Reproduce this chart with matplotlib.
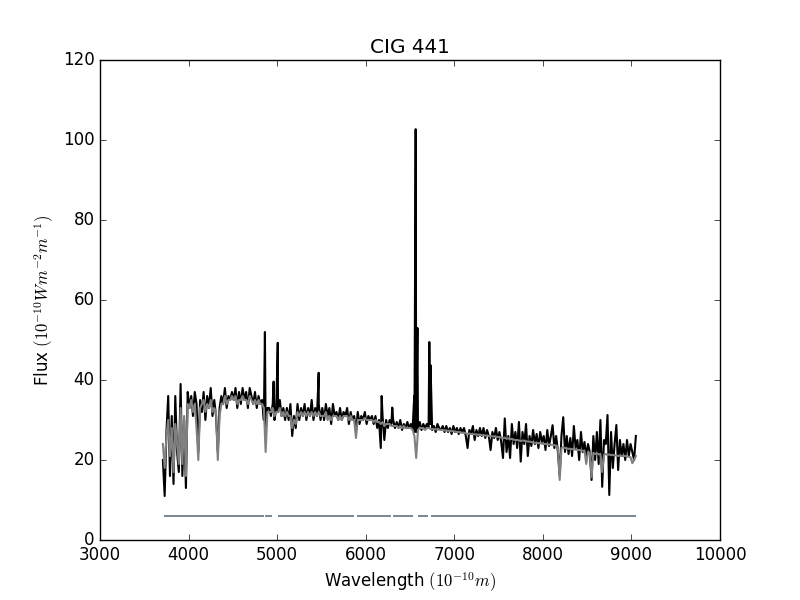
import numpy as np
from matplotlib import pyplot as plt

wave = [
    3710, 3730, 3750, 3770, 3790, 3810, 3830, 3850, 3870, 3890,
    3910, 3930, 3950, 3970, 3990, 4010, 4030, 4050, 4070, 4090,
    4110, 4130, 4150, 4170, 4190, 4210, 4230, 4250, 4270, 4290,
    4310, 4330, 4350, 4370, 4390, 4410, 4430, 4450, 4470, 4490,
    4510, 4530, 4550, 4570, 4590, 4610, 4630, 4650, 4670, 4690,
    4710, 4730, 4750, 4770, 4790, 4810, 4830, 4850, 4870, 4890,
    4910, 4930, 4950, 4970, 4990, 5010, 5030, 5050, 5070, 5090,
    5110, 5130, 5150, 5170, 5190, 5210, 5230, 5250, 5270, 5290,
    5310, 5330, 5350, 5370, 5390, 5410, 5430, 5450, 5470, 5490,
    5510, 5530, 5550, 5570, 5590, 5610, 5630, 5650, 5670, 5690,
    5710, 5730, 5750, 5770, 5790, 5810, 5830, 5850, 5870, 5890,
    5910, 5930, 5950, 5970, 5990, 6010, 6030, 6050, 6070, 6090,
    6110, 6130, 6150, 6170, 6190, 6210, 6230, 6250, 6270, 6290,
    6310, 6330, 6350, 6370, 6390, 6410, 6430, 6450, 6470, 6490,
    6510, 6530, 6550, 6570, 6590, 6610, 6630, 6650, 6670, 6690,
    6710, 6730, 6750, 6770, 6790, 6810, 6830, 6850, 6870, 6890,
    6910, 6930, 6950, 6970, 6990, 7010, 7030, 7050, 7070, 7090,
    7110, 7130, 7150, 7170, 7190, 7210, 7230, 7250, 7270, 7290,
    7310, 7330, 7350, 7370, 7390, 7410, 7430, 7450, 7470, 7490,
    7510, 7530, 7550, 7570, 7590, 7610, 7630, 7650, 7670, 7690,
    7710, 7730, 7750, 7770, 7790, 7810, 7830, 7850, 7870, 7890,
    7910, 7930, 7950, 7970, 7990, 8010, 8030, 8050, 8070, 8090,
    8110, 8130, 8150, 8170, 8190, 8210, 8230, 8250, 8270, 8290,
    8310, 8330, 8350, 8370, 8390, 8410, 8430, 8450, 8470, 8490,
    8510, 8530, 8550, 8570, 8590, 8610, 8630, 8650, 8670, 8690,
    8710, 8730, 8750, 8770, 8790, 8810, 8830, 8850, 8870, 8890,
    8910, 8930, 8950, 8970, 8990, 9010, 9030, 9050,
]

flux_obs = [
    20, 11, 27, 36, 16, 31, 14, 36, 22, 17,
    39, 16, 30, 13, 37, 33, 36, 31, 37, 34,
    22, 35, 32, 37, 30, 36, 33, 38, 31, 35,
    31, 22, 33, 36, 34, 38, 33, 36, 35, 37,
    35, 38, 33, 37, 34, 38, 35, 37, 33, 38,
    36, 34, 37, 33, 36, 34, 35, 30, 27, 33,
    33, 31, 34, 30, 33, 32, 35, 31, 33, 30,
    33, 30, 34, 26, 31, 28, 34, 30, 33, 31,
    34, 30, 33, 31, 35, 30, 33, 31, 34, 30,
    33, 30, 34, 31, 33, 29, 34, 31, 32, 30,
    33, 30, 32, 31, 33, 29, 32, 30, 31, 27,
    32, 29, 31, 30, 32, 29, 31, 30, 31, 29,
    31, 28, 30, 23, 31, 25, 30, 28, 30, 29,
    30, 28, 29.5, 28, 30, 27.5, 29, 28, 29.5, 28,
    29, 28, 27, 27, 28, 29.5, 27.5, 29, 28, 29,
    28, 29, 27.5, 28.5, 27, 29, 28, 27.5, 28.5, 27,
    28.5, 27, 28, 26.5, 28.5, 27, 28, 26.5, 28, 27,
    28, 26, 23, 27.5, 26.5, 28.5, 25, 27.5, 26, 28,
    26, 28, 25.5, 27.5, 26, 22.5, 27, 25.5, 28, 25,
    27, 24.5, 20.5, 30.4, 22, 26, 20.5, 29, 24, 27,
    23, 29.5, 19.6, 27, 24, 29, 21, 26, 23.5, 27.5,
    24, 26.5, 23, 27, 24.5, 26, 22.5, 27.5, 23.5, 26,
    28.7, 23, 26, 22, 16, 26, 30.7, 22, 26, 21.5,
    25.5, 21, 28.5, 23, 25, 20, 27, 22, 24.5, 21,
    24, 22, 15, 26, 20, 27, 19, 30, 13.3, 25,
    24, 31.25, 11.25, 27, 18, 24, 28.75, 17.5, 25, 21,
    24, 20, 25, 21, 24, 22, 20, 26,
]

flux_model = [
    24, 18, 26, 30, 21, 28, 17, 29, 24, 19,
    33, 19, 31, 16, 34, 33, 35, 32, 34, 28,
    20, 33, 34, 35, 32, 34, 33, 35, 32, 33,
    32, 20, 31, 34, 34, 36, 34, 35, 35, 36,
    35, 36, 34, 35, 35, 36, 35, 35, 34, 36,
    35, 34, 35, 34, 35, 34, 34, 33, 22, 32,
    32, 32, 33, 31, 32, 32, 33, 31, 32, 31,
    32, 31, 31, 28, 30, 29, 32, 31, 32, 31,
    32, 31, 32, 31, 32, 31, 32, 31, 32, 31,
    31, 31, 32, 30, 31, 30, 31, 31, 31, 30,
    31, 30, 31, 31, 31, 30, 31, 30, 30, 25.5,
    30, 30, 30, 30, 30.5, 30, 30, 30, 30, 29.5,
    30, 29.5, 29.5, 29, 29.5, 28.5, 29, 29, 29, 28.5,
    28.5, 28.5, 28.5, 28, 28.5, 28, 28.5, 28, 28, 28,
    28, 27.5, 26, 20.5, 27.5, 28, 28, 28, 27.5, 28,
    28, 27.8, 27.8, 27.7, 27.7, 27.6, 27.6, 27.5, 27.5, 27.4,
    27.4, 27.3, 27.3, 27.2, 27.2, 27.1, 27, 27, 26.9, 26.8,
    26.8, 26.7, 26.5, 26.6, 26.5, 26.5, 26.4, 26.4, 26.3, 26.3,
    26.2, 26.2, 26.1, 26.1, 26, 26, 25.9, 25.9, 25.8, 25.8,
    25.7, 25.6, 25.4, 25.6, 25.3, 25.4, 25.2, 25.3, 25.1, 25,
    25, 24.9, 24.7, 24.9, 24.8, 24.7, 24.6, 24.6, 24.5, 24.4,
    24.3, 24.3, 24.2, 24.2, 24.1, 24, 24, 23.9, 23.9, 23.8,
    23.8, 23.7, 23.6, 23.3, 15, 23, 23.2, 23, 22.9, 22.8,
    22.8, 22.7, 22.7, 22.6, 22.5, 22.5, 22.4, 22.3, 22.3, 19,
    22, 21.8, 15.7, 21.8, 21.5, 21.7, 21.4, 21.5, 17, 21.3,
    21.5, 21.3, 21.4, 21.2, 21.3, 21.1, 21.2, 21, 21.1, 21,
    21, 21, 20.9, 20.8, 20.7, 19.2, 20, 21,
]

# Emission lines / spikes in the observed spectrum
line_wave = [4862, 4960, 5007, 5469, 6180, 6300, 6548, 6564, 6584, 6718, 6732]
line_flux = [52, 39.6, 49.3, 41.8, 36, 33.1, 36, 102.7, 53, 49.5, 43.7]

# Good-pixel mask, drawn as a flat line with gaps
mask_start = [3723, 4863, 5010, 5902, 6308, 6590, 6737]
mask_end = [4852, 4938, 5868, 6285, 6534, 6703, 9052]
mask_level = 6

plt.style.use("classic")

# Merge the emission spikes into the observed spectrum
obs_w = np.array(wave + line_wave, dtype=float)
obs_f = np.array(flux_obs + line_flux, dtype=float)
order = np.argsort(obs_w)
obs_w, obs_f = obs_w[order], obs_f[order]

fig = plt.figure(figsize=(8, 6), dpi=100, facecolor="white")
ax = fig.add_subplot(111)

ax.plot(obs_w, obs_f, color="black", lw=1.5)
ax.plot(wave, flux_model, color="0.5", lw=1.5)
ax.hlines([mask_level] * len(mask_start), mask_start, mask_end,
          color="#66727a", lw=1.2)

ax.set_xlim(3000, 10000)
ax.set_ylim(0, 120)
ax.set_title("CIG 441")
ax.set_xlabel(r"Wavelength $(10^{-10}m)$")
ax.set_ylabel(r"Flux $(10^{-10} Wm^{-2}m^{-1})$")

fig.savefig("out.png", dpi=100, facecolor="white")
